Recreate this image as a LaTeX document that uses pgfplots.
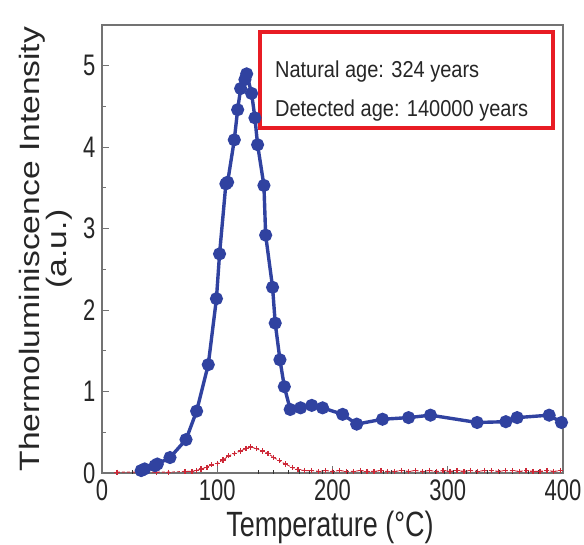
\documentclass[border=0pt]{standalone}
\usepackage{pgfplots}
\pgfplotsset{compat=1.18}
\usepackage{graphicx}
\usepackage{fontspec}
\setmainfont{Liberation Sans}
\definecolor{tlblue}{RGB}{48,66,160}
\definecolor{tlred}{RGB}{205,40,55}
\definecolor{boxred}{RGB}{232,28,36}
\definecolor{framegray}{RGB}{115,115,115}
\newcommand{\tl}[1]{\scalebox{1}[1.35]{#1}}
\begin{document}
\begin{tikzpicture}
\begin{axis}[
  scale only axis,
  width=461pt, height=448pt,
  xmin=0, xmax=400, ymin=0, ymax=5.5,
  xtick={0,100,200,300,400},
  xticklabels={\tl{0},\tl{100},\tl{200},\tl{300},\tl{400}},
  ytick={0,1,2,3,4,5},
  yticklabels={\tl{0},\tl{1},\tl{2},\tl{3},\tl{4},\tl{5}},
  minor y tick num=1,
  tick pos=left,
  tick align=inside,
  major tick length=7pt,
  minor tick length=4pt,
  every tick/.style={framegray, line width=1pt},
  axis line style={framegray, line width=1.3pt},
  tick label style={font=\fontsize{22}{22}\selectfont, black!85},
  xticklabel style={yshift=-3pt},
  yticklabel style={xshift=-3pt},
  xlabel={\scalebox{1}[1.3]{Temperature (°C)}},
  xlabel style={font=\fontsize{27}{27}\selectfont, at={(axis description cs:0.4946,-0.1205)}, anchor=center, black!85},
  ylabel={\scalebox{1.2}[1]{Thermoluminiscence Intensity}\\\scalebox{1.2}[1]{(a.u.)}},
  ylabel style={font=\fontsize{28}{20}\selectfont, align=center, at={(axis description cs:-0.1215,0.5)}, anchor=center, black!85},
]
% black near-zero series
\addplot[black!80, only marks, mark=|, mark size=1.8pt, line width=0.8pt] coordinates {
(26,0.01)(39,0.01)(136,0.01)(149,0.01)(162,0.01)(171,0.01)(180,0.01)(191,0.01)(201,0.01)
(213,0.01)(225,0.01)(236,0.01)(244,0.01)(251,0.01)(262,0.01)(272,0.01)(281,0.01)(289,0.01)
(297,0.01)(305,0.01)(316,0.01)(325,0.01)(334,0.01)(345,0.01)(356,0.01)(370,0.01)(379,0.01)(392,0.01)
};
% red series
\addplot[tlred, densely dashed, line width=0.9pt, mark=+, mark size=2.6pt, mark options={solid, line width=1.3pt}] coordinates {
(13,0.01)(47,0.01)(58,0.01)(72,0.02)(78,0.02)(82,0.03)(86,0.05)(91,0.07)(95,0.10)(100,0.12)
(105,0.16)(110,0.21)(115,0.24)(120,0.27)(125,0.30)(129,0.32)(134,0.30)(139,0.27)
(144,0.24)(149,0.19)(154,0.15)(159,0.11)(165,0.07)(170,0.04)(176,0.03)(182,0.03)
(188,0.02)(194,0.03)(200,0.02)(206,0.03)(212,0.02)(218,0.02)(224,0.03)(230,0.02)
(236,0.02)(242,0.03)(248,0.02)(254,0.02)(260,0.03)(266,0.02)(272,0.03)(278,0.02)
(284,0.03)(290,0.02)(296,0.03)(302,0.02)(308,0.03)(314,0.02)(320,0.03)(326,0.02)
(332,0.03)(338,0.03)(344,0.02)(350,0.03)(356,0.03)(362,0.02)(368,0.03)(374,0.02)
(380,0.02)(386,0.03)(392,0.02)(398,0.03)
};
% blue series
\addplot[tlblue, line width=3.4pt, mark=*, mark size=4.8pt] coordinates {
(34,0.03)(37,0.05)(46,0.09)(48,0.11)(59,0.19)(72.9,0.41)(82.1,0.76)(92.2,1.33)
(99.3,2.14)(102,2.69)(107.5,3.55)(109,3.57)(114.8,4.09)(117.7,4.46)(120.3,4.72)
(124,4.83)(125.5,4.90)(129.8,4.66)(132.7,4.36)(135,4.03)(140.5,3.53)(142,2.92)
(148,2.28)(150.3,1.84)(154.4,1.39)(158.2,1.06)(163.3,0.78)(172.3,0.80)(182,0.83)
(191.4,0.80)(208.8,0.72)(221,0.60)(243.4,0.66)(266,0.68)(285,0.71)(325.5,0.62)
(350.4,0.63)(360.2,0.68)(388,0.71)(398.7,0.62)
};
% annotation box
\draw[boxred, line width=3.4pt, fill=white] (rel axis cs:0.343,0.770) rectangle (rel axis cs:0.978,0.984);
\node[anchor=base west, inner sep=0pt, font=\fontsize{20}{20}\selectfont, black!85] at (rel axis cs:0.375,0.882) {\scalebox{1}[1.15]{Natural age: 324 years}};
\node[anchor=base west, inner sep=0pt, font=\fontsize{20}{20}\selectfont, black!85] at (rel axis cs:0.375,0.795) {\scalebox{1}[1.15]{Detected age: 140000 years}};
\end{axis}
\pgfresetboundingbox
\path[use as bounding box] ([xshift=-102pt,yshift=-71pt]current axis.south west) rectangle ([xshift=21pt,yshift=25pt]current axis.north east);
\end{tikzpicture}
\end{document}
